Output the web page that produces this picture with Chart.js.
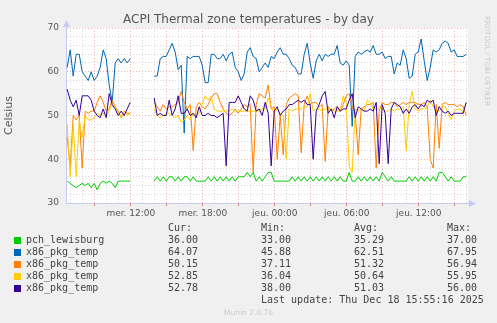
<!DOCTYPE html>
<html lang="fr">
<head>
  <meta charset="UTF-8">
  <title>ACPI Thermal zone temperatures - by day</title>
  <script src="https://cdn.jsdelivr.net/npm/chart.js"></script>
  <style>
    html, body {
      margin: 0;
      padding: 0;
      background: #f0f0f0;
    }
    #wrap {
      position: relative;
      width: 497px;
      height: 323px;
      overflow: hidden;
      font-family: 'DejaVu Sans', sans-serif;
      color: #555;
    }
    #wrap canvas {
      position: absolute;
      left: 0;
      top: 0;
    }
    .txt {
      position: absolute;
      white-space: pre;
    }
    #title {
      left: 0;
      width: 497px;
      text-align: center;
      top: 13px;
      font-size: 12px;
      line-height: 12px;
      color: #555;
    }
    #rrd {
      left: 483px;
      top: 16px;
      font-size: 7px;
      line-height: 8px;
      color: #ccc;
      writing-mode: vertical-rl;
    }
    #munin {
      left: 0;
      width: 497px;
      text-align: center;
      top: 308px;
      font-size: 7.5px;
      line-height: 9px;
      color: #ccc;
    }
    .mono {
      font-family: 'DejaVu Sans Mono', monospace;
      font-size: 10px;
      line-height: 12px;
      color: #444;
    }
    .sq {
      position: absolute;
      width: 7px;
      height: 7px;
    }
  </style>
</head>
<body>
<div id="wrap">
  <canvas id="chart" width="497" height="323"></canvas>
  <div class="txt" id="title">ACPI Thermal zone temperatures - by day</div>
  <div class="txt" id="rrd">RRDTOOL / TOBI OETIKER</div>
  <div id="legend"></div>
  <div class="txt" id="munin">Munin 2.0.76</div>
</div>

<script>
  // 5 minute samples read every 15 minutes, hours counted from Wednesday 00:00
  const startHour = 6.7;
  const stepHour = 0.25;
  const _ = null;

  const pchLewisburg = [
    35, 34.5, 34, 33.5, 34, 34.5, 34, 34.5, 33.5, 34.5,
    33, 34.5, 35, 34.5, 35, 34.5, 33.5, 35, 35, 35,
    35, 35, _, _, _, _, _, _, _, 35,
    36, 35, 36, 35, 36, 36, 35, 36, 35, 36,
    36, 35, 36, 35, 35, 35, 35, 36, 35, 36,
    35, 36, 35, 36, 35, 36, 35, 36, 36, 36,
    37, 36, 37, 35, 36, 35, 36, 37, 37, 35,
    35, 35, 35, 35, 35, 36, 35, 36, 35, 36,
    35, 36, 35, 36, 35, 36, 35, 36, 35, 36,
    35, 36, 35, 35, 37, 35, 35, 36, 35, 36,
    35, 36, 35, 36, 35, 37, 36, 35, 36, 35,
    35, 35, 35, 35, 36, 35, 36, 35, 36, 35,
    36, 35, 36, 35, 37, 37, 36, 35, 36, 35,
    35, 35, 36, 36
  ];

  const pkgBlue = [
    61, 65, 59, 64, 64, 60, 59, 58, 60, 58,
    59, 61, 65, 63, 57, 53, 62, 63, 62, 63,
    62, 63, _, _, _, _, _, _, _, 59,
    59, 63, 63.5, 63.5, 65, 66.5, 64.5, 60.5, 61.5, 46,
    63.5, 63, 63.5, 63.5, 63.5, 61.5, 57.5, 57.5, 64, 64,
    63, 63, 64, 62.5, 64, 64.5, 61, 60, 58, 59.5,
    64.5, 65.5, 63.5, 63, 60, 61, 62, 61, 63.5, 63,
    64.5, 65.5, 64, 64, 63, 61.5, 61, 59.5, 59.5, 64,
    66.5, 62, 58.5, 62.5, 64, 62.5, 64, 63.5, 64, 64,
    66, 62, 61.5, 62.5, 61.5, 47.5, 63.5, 64.5, 64, 64.5,
    65, 64.5, 66, 64, 64, 64.5, 63, 63.5, 63.5, 59.5,
    62, 61.5, 65, 63, 58.5, 59, 64, 64.5, 67.5, 62.5,
    58, 61, 65, 64.5, 65, 66.5, 67, 66.5, 64.5, 65,
    63.5, 63.5, 63.5, 64
  ];

  const pkgOrange = [
    45, 38, 50, 49, 50, 38, 51, 50.5, 51, 51,
    53, 54.5, 53, 51, 51.5, 53.5, 52, 51, 49.5, 51,
    50.5, 50.5, _, _, _, _, _, _, _, 53,
    52, 51, 52.5, 51.5, 52, 52, 52.5, 53, 55.5, 53,
    51.5, 52.5, 42, 52, 53, 52, 51.5, 52.5, 54, 55,
    55, 53, 51.5, 50.5, 50, 50.5, 51.5, 50.5, 51.5, 52.5,
    52, 52.5, 37, 52.5, 55, 54.5, 54, 57, 51.5, 52,
    40, 50, 41, 52.5, 54, 54.5, 55, 54.5, 41.5, 52.5,
    54.5, 52.5, 53, 53, 52, 52.5, 39.5, 52, 51, 51.5,
    52, 51, 52.5, 54.5, 55, 52, 50.5, 41, 51.5, 52,
    52.5, 52.5, 53, 38, 51, 53, 52.5, 52.5, 53, 53,
    52, 52.5, 53, 52.5, 53, 53, 53, 52.5, 52.5, 53,
    52, 40, 38, 52.5, 42.5, 52.5, 53, 52.5, 52.5, 52.5,
    52, 52.5, 52, 50
  ];

  const pkgYellow = [
    48, 36, 48, 36, 49, 45, 50, 49, 49, 49.5,
    50.5, 50, 50.5, 50, 51, 53, 52, 50.5, 49.5, 51,
    50, 50.5, _, _, _, _, _, _, _, 51.5,
    50, 49.5, 50, 50.5, 50.5, 50, 49.5, 50, 48.5, 49,
    50, 49, 50.5, 50, 50.5, 52.5, 54.5, 53.5, 54.5, 51.5,
    51, 51, 51, 51, 51, 51.5, 51, 51, 51, 51,
    51, 51, 51, 51, 51, 51.5, 51.5, 54, 52, 50.5,
    51.5, 50.5, 50, 40, 51.5, 51, 51.5, 51.5, 51.5, 52,
    52, 55, 51, 51.5, 51.5, 51, 51.5, 51.5, 51.5, 51,
    51, 51, 54.5, 53, 38.5, 37, 51.5, 51, 51.5, 51,
    53.5, 53, 51.5, 51.5, 51.5, 51.5, 51, 51, 51.5, 51,
    51.5, 51.5, 52, 42, 52.5, 55.5, 51.5, 51, 51.5, 51.5,
    52, 53.5, 52, 51.5, 51, 52, 52, 50.5, 49, 51,
    51.5, 51.5, 50.5, 53
  ];

  const pkgPurple = [
    56, 53.5, 52, 53.5, 50, 54.5, 54.5, 54.5, 53.5, 51,
    50, 49.5, 51.5, 49.5, 55, 52.5, 51.5, 50, 51, 50,
    51.5, 53, _, _, _, _, _, _, _, 54,
    50, 50.5, 50, 50, 53.5, 50, 51.5, 54.5, 50.5, 50.5,
    51.5, 50, 50.5, 49.5, 52, 50, 50, 50.5, 50, 50,
    49.5, 50, 50.5, 38.5, 53, 53, 53, 54.5, 53, 51.5,
    51, 54.5, 53.5, 51, 51.5, 50, 53, 50.5, 38.5, 51,
    52, 50, 51, 51.5, 52.5, 52.5, 53, 53.5, 53, 53.5,
    52.5, 52.5, 40, 51, 52.5, 54.5, 55.5, 50.5, 51.5, 49.5,
    52, 51, 51.5, 51.5, 53.5, 55, 49.5, 52, 51.5, 51,
    51, 51.5, 51, 53, 39, 52.5, 50.5, 39, 51.5, 53,
    52.5, 52, 50.5, 51.5, 50.5, 52, 52.5, 51.5, 52.5, 52,
    53.5, 53, 53.5, 50, 52, 51, 50.5, 51, 50, 50.5,
    50.5, 50.5, 50.5, 53
  ];

  const seriesNames = ['pch_lewisburg', 'x86_pkg_temp', 'x86_pkg_temp', 'x86_pkg_temp', 'x86_pkg_temp'];
  const seriesColors = ['#00cc00', '#0066b3', '#ff8000', '#ffcc00', '#330099'];
  const seriesValues = [pchLewisburg, pkgBlue, pkgOrange, pkgYellow, pkgPurple];

  const curVals = ['36.00', '64.07', '50.15', '52.85', '52.78'];
  const minVals = ['33.00', '45.88', '37.11', '36.04', '38.00'];
  const avgVals = ['35.29', '62.51', '51.32', '50.64', '51.03'];
  const maxVals = ['37.00', '67.95', '56.94', '55.95', '56.00'];

  const tickHours = [12, 18, 24, 30, 36];
  const tickLabels = ['mer. 12:00', 'mer. 18:00', 'jeu. 00:00', 'jeu. 06:00', 'jeu. 12:00'];

  const times = [];
  for (let i = 0; i < pkgBlue.length; i++) times.push(startHour + i * stepHour);

  const majorGrid = '#f2b4b4';
  const minorGrid = '#d8d8d8';
  const axisColor = '#c6cbf2';

  const muninBg = {
    id: 'muninBg',
    beforeDraw(c) {
      const { ctx, chartArea: a } = c;
      ctx.save();
      ctx.fillStyle = '#fff';
      ctx.fillRect(a.left, a.top, a.right - a.left, a.bottom - a.top);
      ctx.restore();
    },
    afterDraw(c) {
      // axis arrows like rrdtool
      const { ctx, chartArea: a } = c;
      ctx.save();
      ctx.strokeStyle = axisColor;
      ctx.fillStyle = axisColor;
      const x = Math.round(a.left) + 0.5;
      ctx.beginPath();
      ctx.moveTo(x, a.top);
      ctx.lineTo(x, a.top - 2);
      ctx.stroke();
      ctx.beginPath();
      ctx.moveTo(x - 3.5, a.top - 1);
      ctx.lineTo(x + 3.5, a.top - 1);
      ctx.lineTo(x, a.top - 8);
      ctx.fill();
      const y = Math.round(a.bottom) + 0.5;
      ctx.beginPath();
      ctx.moveTo(a.right, y);
      ctx.lineTo(a.right + 2, y);
      ctx.stroke();
      ctx.beginPath();
      ctx.moveTo(a.right + 1, y - 3.5);
      ctx.lineTo(a.right + 1, y + 3.5);
      ctx.lineTo(a.right + 8, y);
      ctx.fill();
      ctx.restore();
    }
  };

  const drawOrder = [4, 3, 2, 1, 0];

  const ctx = document.getElementById('chart').getContext('2d');
  const chart = new Chart(ctx, {
    type: 'line',
    data: {
      datasets: seriesValues.map((vals, k) => ({
        label: seriesNames[k],
        data: times.map((t, i) => ({ x: t, y: vals[i] })),
        borderColor: seriesColors[k],
        backgroundColor: seriesColors[k],
        borderWidth: 1,
        pointRadius: 0,
        tension: 0,
        spanGaps: false,
        order: drawOrder[k]
      }))
    },
    options: {
      responsive: false,
      animation: false,
      layout: { padding: { left: 0, top: 28, right: 29, bottom: 0 } },
      plugins: {
        legend: { display: false },
        tooltip: { enabled: false }
      },
      scales: {
        x: {
          type: 'linear',
          min: 6.6,
          max: 40.1,
          afterFit: s => { s.height = 120; },
          ticks: {
            stepSize: 1,
            includeBounds: false,
            autoSkip: false,
            maxRotation: 0,
            padding: 2,
            color: '#555',
            font: { family: 'DejaVu Sans', size: 9 },
            callback: v => {
              const idx = tickHours.indexOf(v);
              return idx >= 0 ? tickLabels[idx] : '';
            }
          },
          grid: {
            color: c => (c.tick && c.tick.value % 3 === 0) ? majorGrid : minorGrid,
            tickColor: c => (c.tick && c.tick.value % 3 === 0) ? '#e07070' : 'rgba(0,0,0,0)',
            tickLength: 3,
            lineWidth: 1
          },
          border: { color: axisColor, width: 1, dash: [1, 2] }
        },
        y: {
          min: 30,
          max: 70,
          afterFit: s => { s.width = 66; },
          ticks: {
            stepSize: 2,
            autoSkip: false,
            padding: 7,
            color: '#555',
            font: { family: 'DejaVu Sans', size: 9 },
            callback: v => v % 10 === 0 ? v : ''
          },
          grid: {
            color: c => (c.tick && c.tick.value % 10 === 0) ? majorGrid : minorGrid,
            drawTicks: false,
            lineWidth: 1
          },
          border: { color: axisColor, width: 1, dash: [1, 2] },
          title: {
            display: true,
            text: 'Celsius',
            color: '#555',
            font: { family: 'DejaVu Sans', size: 11 },
            padding: { top: 3, bottom: 0 }
          }
        }
      }
    },
    plugins: [muninBg]
  });

  // legend table under the graph
  const legend = document.getElementById('legend');
  const colX = [168, 261, 354, 447];
  const rowY = [240, 252, 264, 276, 288];

  function addText(str, left, centerY, cls) {
    const d = document.createElement('div');
    d.className = 'txt ' + cls;
    d.style.left = left + 'px';
    d.style.top = (centerY - 6) + 'px';
    d.textContent = str;
    legend.appendChild(d);
  }

  ['Cur:', 'Min:', 'Avg:', 'Max:'].forEach((h, j) => addText(h, colX[j], 228, 'mono'));
  seriesNames.forEach((name, k) => {
    const sq = document.createElement('div');
    sq.className = 'sq';
    sq.style.left = '14px';
    sq.style.top = (rowY[k] - 3) + 'px';
    sq.style.background = seriesColors[k];
    legend.appendChild(sq);
    addText(name, 26, rowY[k], 'mono');
    addText(curVals[k], colX[0], rowY[k], 'mono');
    addText(minVals[k], colX[1], rowY[k], 'mono');
    addText(avgVals[k], colX[2], rowY[k], 'mono');
    addText(maxVals[k], colX[3], rowY[k], 'mono');
  });
  addText('Last update: Thu Dec 18 15:55:16 2025', 261, 300, 'mono');
</script>
</body>
</html>
